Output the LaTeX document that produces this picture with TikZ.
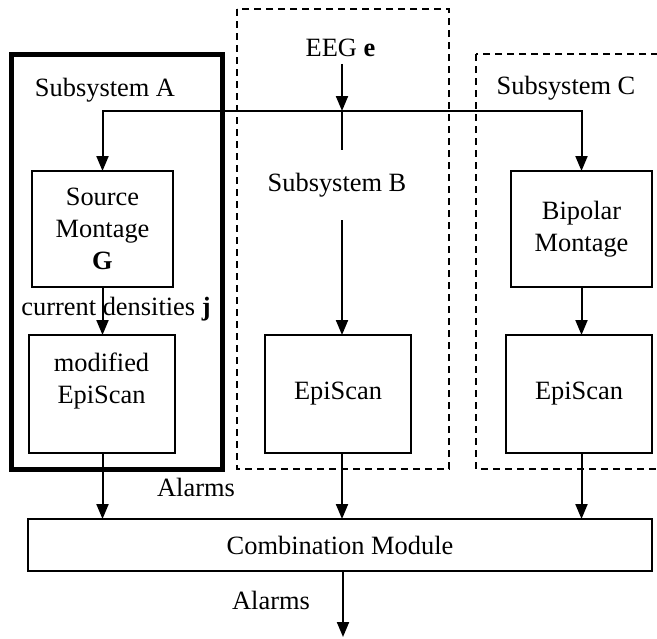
\documentclass[tikz,border=0pt]{standalone}
\usepackage{fontspec}
\setmainfont{Liberation Serif}
\usetikzlibrary{arrows.meta}

\tikzset{
  blockbox/.style={draw, line width=1pt, align=center, inner sep=0pt, outer sep=0pt},
  flow/.style={line width=1pt, -{Triangle[length=7.5pt,width=6pt]}},
  groupbox/.style={line width=0.8pt, dash pattern=on 3.5pt off 2.5pt}
}

\begin{document}
\begin{tikzpicture}[x=0.5pt, y=-0.5pt, font=\fontsize{13.2}{16}\selectfont]

\useasboundingbox (0,0) rectangle (657,638);

\draw [line width=2.5pt] (11,54.5) rectangle (222,469);
\draw [groupbox] (237,9) rectangle (449,469);
\draw [groupbox] (476,54) rectangle (680,469);

\node (subA) at (105,90) {Subsystem A};
\node (subC) at (566,88) {Subsystem C};
\node (eeg) at (340.5,48) {EEG \textbf{e}};
\node [minimum height=35pt, inner sep=0pt] (subB) at (337,185) {Subsystem B};

\node [blockbox, minimum width=70.5pt, minimum height=58pt] (src) at (102.5,229) {Source\\Montage\\\textbf{G}};
\node [blockbox, minimum width=70.5pt, minimum height=58pt] (bip) at (581.5,229) {Bipolar\\Montage};
\node [blockbox, minimum width=73pt, minimum height=59pt] (modscan) at (101.5,394) {modified\\EpiScan\\\mbox{}};
\node [blockbox, minimum width=73pt, minimum height=59pt] (scanB) at (338,394) {EpiScan};
\node [blockbox, minimum width=73pt, minimum height=59pt] (scanC) at (579,394) {EpiScan};
\node [blockbox, minimum width=312pt, minimum height=26pt] (comb) at (340,545) {Combination Module};

\node (dens) at (116,309) {current densities \textbf{j}};
\node (alarmsin) at (196,487) {Alarms};
\node (alarmsout) at (271,600) {Alarms};

\coordinate (split) at (342,111);
\coordinate (out) at (343,637);

\draw [flow] (split |- eeg.south) -- (split);
\draw [flow] (split) -| (src.north);
\draw [flow] (split) -| (bip.north);
\draw [line width=1pt] (split) -- (split |- subB.north);
\draw [flow] (split |- subB.south) -- (split |- scanB.north);

\draw [flow] (src.south) -- (src.south |- modscan.north);
\draw [flow] (bip.south) -- (bip.south |- scanC.north);

\draw [flow] (src.south |- modscan.south) -- (src.south |- comb.north);
\draw [flow] (split |- scanB.south) -- (split |- comb.north);
\draw [flow] (bip.south |- scanC.south) -- (bip.south |- comb.north);

\draw [flow] (out |- comb.south) -- (out);

\end{tikzpicture}
\end{document}
